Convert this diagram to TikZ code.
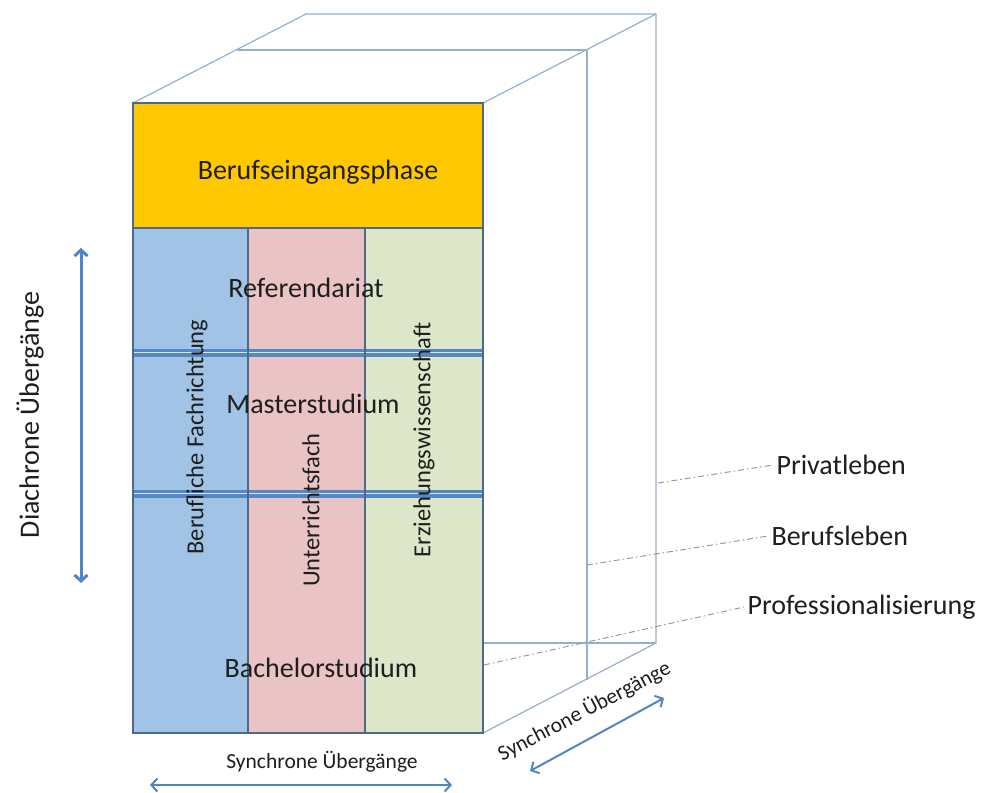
\documentclass[tikz,border=0pt]{standalone}
\usepackage{fontspec}
\setmainfont{Carlito}
\usetikzlibrary{arrows.meta}
\definecolor{framecol}{RGB}{150,175,205}
\definecolor{edgecol}{RGB}{75,105,140}
\definecolor{rowcol}{RGB}{85,135,195}
\definecolor{arrowcol}{RGB}{80,135,195}
\definecolor{orangecol}{RGB}{255,200,0}
\definecolor{bluecol}{RGB}{160,195,230}
\definecolor{pinkcol}{RGB}{234,196,196}
\definecolor{greencol}{RGB}{221,230,201}
\definecolor{leadcol}{RGB}{150,155,160}
\definecolor{textcol}{RGB}{30,30,30}
\tikzset{
  frame/.style={framecol, line width=1.2pt},
  leader/.style={leadcol, line width=1pt, dash pattern=on 6pt off 3pt on 1.5pt off 3pt},
  rowline/.style={rowcol, line width=3.2pt, double=white!80!rowcol, double distance=1.6pt},
  big/.style={textcol, font=\fontsize{28}{33}\selectfont},
  side/.style={textcol, font=\fontsize{24.5}{29}\selectfont, rotate=90},
  small/.style={textcol, font=\fontsize{21.5}{25}\selectfont},
  dbl/.style={arrowcol, line width=2pt, arrows={Straight Barb[length=6pt,width=13pt]-Straight Barb[length=6pt,width=13pt]}}
}
\begin{document}
\begin{tikzpicture}[x=1pt,y=-1pt]
    \useasboundingbox (0,0) rectangle (987,792);
    % outer and middle frames behind the front face
    \draw[frame] (133,103) -- (306,14) -- (656,14) -- (656,643) -- (483,733);
    \draw[frame] (483,103) -- (656,14);
    \draw[frame] (483,643) -- (656,643);
    \draw[frame] (237,50) -- (587,50) -- (587,680);
    % columns
    \fill[bluecol] (133,228) rectangle (248,733);
    \fill[pinkcol] (248,228) rectangle (365,733);
    \fill[greencol] (365,228) rectangle (483,733);
    \draw[rowline] (133,352.5) -- (483,352.5);
    \draw[rowline] (133,493.5) -- (483,493.5);
    \draw[edgecol, line width=2.6pt] (248,228) -- (248,733) (365,228) -- (365,733);
    \draw[edgecol, line width=2.6pt] (133,228) rectangle (483,733);
    % top block
    \draw[edgecol, line width=2.6pt, fill=orangecol] (133,103) rectangle (483,228);
    \node[big] (phase) at (318,172) {Berufseingangsphase};
    \node[big] (ref) at (306,288) {Referendariat};
    \node[big] (master) at (313,404) {Masterstudium};
    \node[big] (bachelor) at (321,668) {Bachelorstudium};
    \node[side] (fach) at (197,437) {Berufliche Fachrichtung};
    \node[side] (unterricht) at (311,510) {Unterrichtsfach};
    \node[side] (erz) at (424,440) {Erziehungswissenschaft};
    % leaders
    \node[big, anchor=west] (privat) at (773,465) {Privatleben};
    \node[big, anchor=west] (beruf) at (768,536) {Berufsleben};
    \node[big, anchor=west] (prof) at (744,607) {Professionalisierung};
    \coordinate (p1) at (658,483);
    \coordinate (p2) at (587,565);
    \coordinate (p3) at (484,665);
    \draw[leader] (p1) -- (privat.west);
    \draw[leader] (p2) -- (beruf.west);
    \draw[leader] (p3) -- (prof.west);
    % transitions
    \coordinate (dtop) at (81,248);
    \coordinate (dbot) at (81,583);
    \draw[dbl, line width=3pt] (dtop) -- (dbot);
    \node[big, rotate=90] (dia) at (30,415) {Diachrone Übergänge};
    \node[small] (syn) at (322,762) {Synchrone Übergänge};
    \coordinate (sl) at (150,785);
    \coordinate (sr) at (452,785);
    \draw[dbl] (sl) -- (sr);
    \node[small, rotate=27.5] (syn2) at (584,711) {Synchrone Übergänge};
    \coordinate (ql) at (530,771);
    \coordinate (qr) at (664,698);
    \draw[dbl] (ql) -- (qr);
\end{tikzpicture}
\end{document}
